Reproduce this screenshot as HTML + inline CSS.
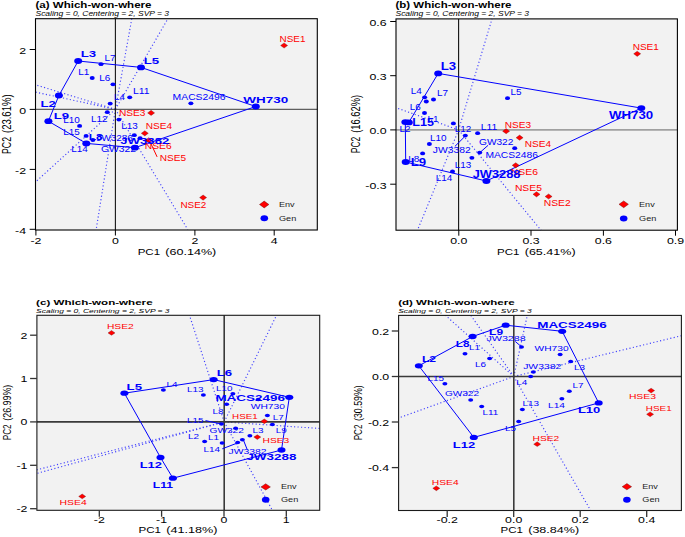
<!DOCTYPE html>
<html><head><meta charset="utf-8"><style>
html,body{margin:0;padding:0;background:#fff;}
svg{display:block;}
text{font-family:"Liberation Sans",sans-serif;}
</style></head><body>
<svg width="685" height="537" viewBox="0 0 685 537">
<rect width="685" height="537" fill="#fff"/>
<rect x="35.5" y="18.7" width="281.8" height="211.3" fill="#f2f2f2"/>
<line x1="115.40" y1="109.30" x2="131.80" y2="18.70" stroke="#4040ff" stroke-width="1.15" stroke-dasharray="1.15 2.35" stroke-linecap="butt"/>
<line x1="115.40" y1="109.30" x2="167.90" y2="18.70" stroke="#4040ff" stroke-width="1.15" stroke-dasharray="1.15 2.35" stroke-linecap="butt"/>
<line x1="115.40" y1="109.30" x2="35.50" y2="84.80" stroke="#4040ff" stroke-width="1.15" stroke-dasharray="1.15 2.35" stroke-linecap="butt"/>
<line x1="115.40" y1="109.30" x2="35.50" y2="92.10" stroke="#4040ff" stroke-width="1.15" stroke-dasharray="1.15 2.35" stroke-linecap="butt"/>
<line x1="115.40" y1="109.30" x2="35.50" y2="182.00" stroke="#4040ff" stroke-width="1.15" stroke-dasharray="1.15 2.35" stroke-linecap="butt"/>
<line x1="115.40" y1="109.30" x2="96.20" y2="229.50" stroke="#4040ff" stroke-width="1.15" stroke-dasharray="1.15 2.35" stroke-linecap="butt"/>
<line x1="115.40" y1="109.30" x2="187.70" y2="229.50" stroke="#4040ff" stroke-width="1.15" stroke-dasharray="1.15 2.35" stroke-linecap="butt"/>
<line x1="35.50" y1="109.30" x2="317.30" y2="109.30" stroke="#3a3a3a" stroke-width="1.0" stroke-linecap="butt"/>
<line x1="115.40" y1="18.70" x2="115.40" y2="230.00" stroke="#161616" stroke-width="1.1" stroke-linecap="butt"/>
<polygon points="78.20,61.00 141.00,67.40 255.80,106.50 134.90,147.70 86.30,143.40 48.40,121.20 58.90,95.50" fill="none" stroke="#0000ff" stroke-width="1.0" stroke-linejoin="round"/>
<line x1="151.00" y1="143.80" x2="157.10" y2="156.90" stroke="#ff0000" stroke-width="1.0" stroke-linecap="butt"/>
<ellipse cx="101.00" cy="64.20" rx="2.5" ry="1.9" fill="#0000ff"/>
<ellipse cx="92.20" cy="78.00" rx="2.5" ry="1.9" fill="#0000ff"/>
<ellipse cx="113.00" cy="84.30" rx="2.5" ry="1.9" fill="#0000ff"/>
<ellipse cx="110.20" cy="103.60" rx="2.5" ry="1.9" fill="#0000ff"/>
<ellipse cx="129.70" cy="97.30" rx="2.5" ry="1.9" fill="#0000ff"/>
<ellipse cx="107.30" cy="112.20" rx="2.5" ry="1.9" fill="#0000ff"/>
<ellipse cx="118.90" cy="119.60" rx="2.5" ry="1.9" fill="#0000ff"/>
<ellipse cx="79.60" cy="125.90" rx="2.5" ry="1.9" fill="#0000ff"/>
<ellipse cx="86.10" cy="135.90" rx="2.5" ry="1.9" fill="#0000ff"/>
<ellipse cx="92.90" cy="140.00" rx="2.5" ry="1.9" fill="#0000ff"/>
<ellipse cx="190.90" cy="103.30" rx="2.5" ry="1.9" fill="#0000ff"/>
<ellipse cx="134.30" cy="135.20" rx="2.5" ry="1.9" fill="#0000ff"/>
<ellipse cx="140.10" cy="138.20" rx="2.5" ry="1.9" fill="#0000ff"/>
<ellipse cx="78.20" cy="61.00" rx="4.0" ry="2.9" fill="#0000ff"/>
<ellipse cx="141.00" cy="67.40" rx="4.0" ry="2.9" fill="#0000ff"/>
<ellipse cx="255.80" cy="106.50" rx="4.0" ry="2.9" fill="#0000ff"/>
<ellipse cx="134.90" cy="147.70" rx="4.0" ry="2.9" fill="#0000ff"/>
<ellipse cx="86.30" cy="143.40" rx="4.0" ry="2.9" fill="#0000ff"/>
<ellipse cx="48.40" cy="121.20" rx="4.0" ry="2.9" fill="#0000ff"/>
<ellipse cx="58.90" cy="95.50" rx="4.0" ry="2.9" fill="#0000ff"/>
<polygon points="280.60,45.50 284.10,42.90 287.60,45.50 284.10,48.10" fill="#ff0000" stroke="#5a0000" stroke-width="0.45" stroke-opacity="0.7" stroke-linejoin="miter"/>
<polygon points="147.60,112.90 151.10,110.30 154.60,112.90 151.10,115.50" fill="#ff0000" stroke="#5a0000" stroke-width="0.45" stroke-opacity="0.7" stroke-linejoin="miter"/>
<polygon points="141.30,133.30 144.80,130.70 148.30,133.30 144.80,135.90" fill="#ff0000" stroke="#5a0000" stroke-width="0.45" stroke-opacity="0.7" stroke-linejoin="miter"/>
<polygon points="145.20,140.30 148.70,137.70 152.20,140.30 148.70,142.90" fill="#ff0000" stroke="#5a0000" stroke-width="0.45" stroke-opacity="0.7" stroke-linejoin="miter"/>
<polygon points="199.60,197.60 203.10,195.00 206.60,197.60 203.10,200.20" fill="#ff0000" stroke="#5a0000" stroke-width="0.45" stroke-opacity="0.7" stroke-linejoin="miter"/>
<text x="104.50" y="60.82" font-size="8.2" font-weight="normal" font-style="normal" fill="#0000ff" textLength="11.03" lengthAdjust="spacingAndGlyphs">L7</text>
<text x="78.20" y="75.22" font-size="8.2" font-weight="normal" font-style="normal" fill="#0000ff" textLength="11.03" lengthAdjust="spacingAndGlyphs">L1</text>
<text x="99.20" y="80.82" font-size="8.2" font-weight="normal" font-style="normal" fill="#0000ff" textLength="11.03" lengthAdjust="spacingAndGlyphs">L6</text>
<text x="114.10" y="100.12" font-size="8.2" font-weight="normal" font-style="normal" fill="#0000ff" textLength="11.03" lengthAdjust="spacingAndGlyphs">L4</text>
<text x="133.00" y="93.62" font-size="8.2" font-weight="normal" font-style="normal" fill="#0000ff" textLength="16.55" lengthAdjust="spacingAndGlyphs">L11</text>
<text x="90.90" y="121.82" font-size="8.2" font-weight="normal" font-style="normal" fill="#0000ff" textLength="16.55" lengthAdjust="spacingAndGlyphs">L12</text>
<text x="121.20" y="129.12" font-size="8.2" font-weight="normal" font-style="normal" fill="#0000ff" textLength="16.55" lengthAdjust="spacingAndGlyphs">L13</text>
<text x="63.30" y="122.52" font-size="8.2" font-weight="normal" font-style="normal" fill="#0000ff" textLength="16.55" lengthAdjust="spacingAndGlyphs">L10</text>
<text x="63.30" y="135.12" font-size="8.2" font-weight="normal" font-style="normal" fill="#0000ff" textLength="16.55" lengthAdjust="spacingAndGlyphs">L15</text>
<text x="71.20" y="151.82" font-size="8.2" font-weight="normal" font-style="normal" fill="#0000ff" textLength="16.55" lengthAdjust="spacingAndGlyphs">L14</text>
<text x="172.60" y="99.72" font-size="8.2" font-weight="normal" font-style="normal" fill="#0000ff" textLength="53.00" lengthAdjust="spacingAndGlyphs">MACS2496</text>
<text x="96.50" y="140.52" font-size="8.2" font-weight="normal" font-style="normal" fill="#0000ff" textLength="36.39" lengthAdjust="spacingAndGlyphs">JW3286</text>
<text x="101.00" y="151.82" font-size="8.2" font-weight="normal" font-style="normal" fill="#0000ff" textLength="35.00" lengthAdjust="spacingAndGlyphs">GW322</text>
<text x="279.60" y="41.92" font-size="8.2" font-weight="normal" font-style="normal" fill="#ff0000" textLength="25.91" lengthAdjust="spacingAndGlyphs">NSE1</text>
<text x="118.90" y="115.92" font-size="8.2" font-weight="normal" font-style="normal" fill="#ff0000" textLength="26.60" lengthAdjust="spacingAndGlyphs">NSE3</text>
<text x="145.70" y="129.42" font-size="8.2" font-weight="normal" font-style="normal" fill="#ff0000" textLength="26.30" lengthAdjust="spacingAndGlyphs">NSE4</text>
<text x="144.80" y="149.22" font-size="8.2" font-weight="normal" font-style="normal" fill="#ff0000" textLength="26.80" lengthAdjust="spacingAndGlyphs">NSE6</text>
<text x="159.70" y="160.92" font-size="8.2" font-weight="normal" font-style="normal" fill="#ff0000" textLength="26.30" lengthAdjust="spacingAndGlyphs">NSE5</text>
<text x="180.40" y="207.72" font-size="8.2" font-weight="normal" font-style="normal" fill="#ff0000" textLength="25.91" lengthAdjust="spacingAndGlyphs">NSE2</text>
<text x="80.80" y="57.41" font-size="9.9" font-weight="bold" font-style="normal" fill="#0000ff" textLength="15.40" lengthAdjust="spacingAndGlyphs">L3</text>
<text x="143.70" y="64.01" font-size="9.9" font-weight="bold" font-style="normal" fill="#0000ff" textLength="15.40" lengthAdjust="spacingAndGlyphs">L5</text>
<text x="243.30" y="102.51" font-size="9.9" font-weight="bold" font-style="normal" fill="#0000ff" textLength="44.90" lengthAdjust="spacingAndGlyphs">WH730</text>
<text x="120.30" y="143.91" font-size="9.9" font-weight="bold" font-style="normal" fill="#0000ff" textLength="49.00" lengthAdjust="spacingAndGlyphs">JW3382</text>
<text x="88.80" y="140.41" font-size="9.9" font-weight="bold" font-style="normal" fill="#0000ff" textLength="14.00" lengthAdjust="spacingAndGlyphs">L8</text>
<text x="53.70" y="119.11" font-size="9.9" font-weight="bold" font-style="normal" fill="#0000ff" textLength="15.40" lengthAdjust="spacingAndGlyphs">L9</text>
<text x="40.50" y="106.51" font-size="9.9" font-weight="bold" font-style="normal" fill="#0000ff" textLength="15.40" lengthAdjust="spacingAndGlyphs">L2</text>
<rect x="35.5" y="18.7" width="281.8" height="211.3" fill="none" stroke="#000" stroke-width="1.1"/>
<line x1="29.70" y1="49.50" x2="35.50" y2="49.50" stroke="#000" stroke-width="1.0" stroke-linecap="butt"/>
<text x="19.23" y="53.81" font-size="9.9" font-weight="normal" font-style="normal" fill="#000" textLength="6.87" lengthAdjust="spacingAndGlyphs">2</text>
<line x1="29.70" y1="109.40" x2="35.50" y2="109.40" stroke="#000" stroke-width="1.0" stroke-linecap="butt"/>
<text x="19.23" y="113.71" font-size="9.9" font-weight="normal" font-style="normal" fill="#000" textLength="6.87" lengthAdjust="spacingAndGlyphs">0</text>
<line x1="29.70" y1="169.40" x2="35.50" y2="169.40" stroke="#000" stroke-width="1.0" stroke-linecap="butt"/>
<text x="15.11" y="173.71" font-size="9.9" font-weight="normal" font-style="normal" fill="#000" textLength="10.99" lengthAdjust="spacingAndGlyphs">-2</text>
<line x1="29.70" y1="229.30" x2="35.50" y2="229.30" stroke="#000" stroke-width="1.0" stroke-linecap="butt"/>
<text x="15.11" y="233.61" font-size="9.9" font-weight="normal" font-style="normal" fill="#000" textLength="10.99" lengthAdjust="spacingAndGlyphs">-4</text>
<line x1="35.90" y1="230.00" x2="35.90" y2="235.51" stroke="#000" stroke-width="1.0" stroke-linecap="butt"/>
<text x="30.40" y="244.21" font-size="9.9" font-weight="normal" font-style="normal" fill="#000" textLength="10.99" lengthAdjust="spacingAndGlyphs">-2</text>
<line x1="115.40" y1="230.00" x2="115.40" y2="235.51" stroke="#000" stroke-width="1.0" stroke-linecap="butt"/>
<text x="111.96" y="244.21" font-size="9.9" font-weight="normal" font-style="normal" fill="#000" textLength="6.87" lengthAdjust="spacingAndGlyphs">0</text>
<line x1="194.90" y1="230.00" x2="194.90" y2="235.51" stroke="#000" stroke-width="1.0" stroke-linecap="butt"/>
<text x="191.46" y="244.21" font-size="9.9" font-weight="normal" font-style="normal" fill="#000" textLength="6.87" lengthAdjust="spacingAndGlyphs">2</text>
<line x1="274.20" y1="230.00" x2="274.20" y2="235.51" stroke="#000" stroke-width="1.0" stroke-linecap="butt"/>
<text x="270.76" y="244.21" font-size="9.9" font-weight="normal" font-style="normal" fill="#000" textLength="6.87" lengthAdjust="spacingAndGlyphs">4</text>
<text x="35.50" y="7.66" font-size="8.3" font-weight="bold" font-style="normal" fill="#000" textLength="116.00" lengthAdjust="spacingAndGlyphs">(a) Which-won-where</text>
<text x="35.50" y="15.70" font-size="6.4" font-weight="normal" font-style="italic" fill="#000" textLength="133.50" lengthAdjust="spacingAndGlyphs">Scaling = 0, Centering = 2, SVP = 3</text>
<text x="137.70" y="254.66" font-size="9.2" font-weight="normal" font-style="normal" fill="#000" textLength="22.40" lengthAdjust="spacingAndGlyphs">PC1</text>
<text x="165.37" y="254.66" font-size="9.2" font-weight="normal" font-style="normal" fill="#000" textLength="50.93" lengthAdjust="spacingAndGlyphs">(60.14%)</text>
<g transform="translate(6.80,154.00) scale(1.35,1) rotate(-90)"><text x="0.00" y="3.16" font-size="9.2" fill="#000" textLength="16.99" lengthAdjust="spacingAndGlyphs">PC2</text></g>
<g transform="translate(6.80,154.00) scale(1.35,1) rotate(-90)"><text x="20.98" y="3.16" font-size="9.2" fill="#000" textLength="38.62" lengthAdjust="spacingAndGlyphs">(23.61%)</text></g>
<polygon points="259.50,204.50 264.20,201.10 268.90,204.50 264.20,207.90" fill="#ff0000" stroke="#5a0000" stroke-width="0.6" stroke-opacity="0.7" stroke-linejoin="miter"/>
<ellipse cx="264.30" cy="218.30" rx="3.8" ry="3.0" fill="#0000ff"/>
<text x="279.00" y="207.05" font-size="7.4" font-weight="normal" font-style="normal" fill="#1a1a1a" textLength="15.60" lengthAdjust="spacingAndGlyphs">Env</text>
<text x="279.00" y="220.85" font-size="7.4" font-weight="normal" font-style="normal" fill="#1a1a1a" textLength="17.30" lengthAdjust="spacingAndGlyphs">Gen</text>
<rect x="396" y="18.9" width="281.4" height="211.29999999999998" fill="#f2f2f2"/>
<line x1="458.60" y1="129.90" x2="492.00" y2="18.90" stroke="#4040ff" stroke-width="1.15" stroke-dasharray="1.15 2.35" stroke-linecap="butt"/>
<line x1="458.60" y1="129.90" x2="396.00" y2="107.70" stroke="#4040ff" stroke-width="1.15" stroke-dasharray="1.15 2.35" stroke-linecap="butt"/>
<line x1="458.60" y1="129.90" x2="417.50" y2="230.20" stroke="#4040ff" stroke-width="1.15" stroke-dasharray="1.15 2.35" stroke-linecap="butt"/>
<line x1="458.60" y1="129.90" x2="541.00" y2="230.20" stroke="#4040ff" stroke-width="1.15" stroke-dasharray="1.15 2.35" stroke-linecap="butt"/>
<line x1="396.00" y1="129.90" x2="677.40" y2="129.90" stroke="#a0a0a0" stroke-width="1.6" stroke-linecap="butt"/>
<line x1="458.60" y1="18.90" x2="458.60" y2="230.20" stroke="#111" stroke-width="1.1" stroke-linecap="butt"/>
<polygon points="438.20,73.40 641.30,108.10 486.40,181.00 405.70,162.00 405.30,122.10 408.80,122.40" fill="none" stroke="#0000ff" stroke-width="1.0" stroke-linejoin="round"/>
<line x1="480.20" y1="152.30" x2="488.10" y2="145.30" stroke="#0000ff" stroke-width="1.0" stroke-linecap="butt"/>
<line x1="454.90" y1="146.40" x2="464.80" y2="136.50" stroke="#0000ff" stroke-width="1.0" stroke-linecap="butt"/>
<ellipse cx="424.60" cy="97.30" rx="2.5" ry="1.9" fill="#0000ff"/>
<ellipse cx="426.30" cy="101.50" rx="2.5" ry="1.9" fill="#0000ff"/>
<ellipse cx="433.50" cy="99.50" rx="2.5" ry="1.9" fill="#0000ff"/>
<ellipse cx="424.50" cy="113.00" rx="2.5" ry="1.9" fill="#0000ff"/>
<ellipse cx="453.40" cy="123.40" rx="2.5" ry="1.9" fill="#0000ff"/>
<ellipse cx="465.30" cy="135.60" rx="2.5" ry="1.9" fill="#0000ff"/>
<ellipse cx="477.60" cy="133.20" rx="2.5" ry="1.9" fill="#0000ff"/>
<ellipse cx="429.40" cy="144.00" rx="2.5" ry="1.9" fill="#0000ff"/>
<ellipse cx="422.60" cy="153.40" rx="2.5" ry="1.9" fill="#0000ff"/>
<ellipse cx="471.90" cy="157.80" rx="2.5" ry="1.9" fill="#0000ff"/>
<ellipse cx="452.50" cy="171.40" rx="2.5" ry="1.9" fill="#0000ff"/>
<ellipse cx="479.70" cy="152.60" rx="2.5" ry="1.9" fill="#0000ff"/>
<ellipse cx="514.70" cy="148.20" rx="2.5" ry="1.9" fill="#0000ff"/>
<ellipse cx="507.50" cy="98.20" rx="2.5" ry="1.9" fill="#0000ff"/>
<ellipse cx="438.20" cy="73.40" rx="4.0" ry="2.9" fill="#0000ff"/>
<ellipse cx="641.30" cy="108.10" rx="4.0" ry="2.9" fill="#0000ff"/>
<ellipse cx="486.40" cy="181.00" rx="4.0" ry="2.9" fill="#0000ff"/>
<ellipse cx="405.70" cy="162.00" rx="4.0" ry="2.9" fill="#0000ff"/>
<ellipse cx="405.30" cy="122.10" rx="4.0" ry="2.9" fill="#0000ff"/>
<ellipse cx="408.80" cy="122.40" rx="4.0" ry="2.9" fill="#0000ff"/>
<polygon points="633.70,53.80 637.20,51.20 640.70,53.80 637.20,56.40" fill="#ff0000" stroke="#5a0000" stroke-width="0.45" stroke-opacity="0.7" stroke-linejoin="miter"/>
<polygon points="502.60,131.20 506.10,128.60 509.60,131.20 506.10,133.80" fill="#ff0000" stroke="#5a0000" stroke-width="0.45" stroke-opacity="0.7" stroke-linejoin="miter"/>
<polygon points="516.10,137.70 519.60,135.10 523.10,137.70 519.60,140.30" fill="#ff0000" stroke="#5a0000" stroke-width="0.45" stroke-opacity="0.7" stroke-linejoin="miter"/>
<polygon points="512.20,165.30 515.70,162.70 519.20,165.30 515.70,167.90" fill="#ff0000" stroke="#5a0000" stroke-width="0.45" stroke-opacity="0.7" stroke-linejoin="miter"/>
<polygon points="533.00,194.30 536.50,191.70 540.00,194.30 536.50,196.90" fill="#ff0000" stroke="#5a0000" stroke-width="0.45" stroke-opacity="0.7" stroke-linejoin="miter"/>
<polygon points="545.10,196.50 548.60,193.90 552.10,196.50 548.60,199.10" fill="#ff0000" stroke="#5a0000" stroke-width="0.45" stroke-opacity="0.7" stroke-linejoin="miter"/>
<text x="410.70" y="93.82" font-size="8.2" font-weight="normal" font-style="normal" fill="#0000ff" textLength="11.03" lengthAdjust="spacingAndGlyphs">L4</text>
<text x="437.00" y="95.92" font-size="8.2" font-weight="normal" font-style="normal" fill="#0000ff" textLength="11.03" lengthAdjust="spacingAndGlyphs">L7</text>
<text x="409.80" y="109.62" font-size="8.2" font-weight="normal" font-style="normal" fill="#0000ff" textLength="11.03" lengthAdjust="spacingAndGlyphs">L6</text>
<text x="427.50" y="122.32" font-size="8.2" font-weight="normal" font-style="normal" fill="#0000ff" textLength="11.03" lengthAdjust="spacingAndGlyphs">L1</text>
<text x="454.80" y="132.02" font-size="8.2" font-weight="normal" font-style="normal" fill="#0000ff" textLength="16.55" lengthAdjust="spacingAndGlyphs">L12</text>
<text x="480.70" y="129.92" font-size="8.2" font-weight="normal" font-style="normal" fill="#0000ff" textLength="16.55" lengthAdjust="spacingAndGlyphs">L11</text>
<text x="430.00" y="140.82" font-size="8.2" font-weight="normal" font-style="normal" fill="#0000ff" textLength="16.55" lengthAdjust="spacingAndGlyphs">L10</text>
<text x="408.20" y="162.12" font-size="8.2" font-weight="normal" font-style="normal" fill="#0000ff" textLength="11.03" lengthAdjust="spacingAndGlyphs">L8</text>
<text x="454.80" y="167.52" font-size="8.2" font-weight="normal" font-style="normal" fill="#0000ff" textLength="16.55" lengthAdjust="spacingAndGlyphs">L13</text>
<text x="435.70" y="180.92" font-size="8.2" font-weight="normal" font-style="normal" fill="#0000ff" textLength="16.55" lengthAdjust="spacingAndGlyphs">L14</text>
<text x="479.00" y="144.82" font-size="8.2" font-weight="normal" font-style="normal" fill="#0000ff" textLength="34.40" lengthAdjust="spacingAndGlyphs">GW322</text>
<text x="485.40" y="158.12" font-size="8.2" font-weight="normal" font-style="normal" fill="#0000ff" textLength="52.60" lengthAdjust="spacingAndGlyphs">MACS2486</text>
<text x="432.80" y="153.32" font-size="8.2" font-weight="normal" font-style="normal" fill="#0000ff" textLength="37.90" lengthAdjust="spacingAndGlyphs">JW3382</text>
<text x="510.40" y="94.92" font-size="8.2" font-weight="normal" font-style="normal" fill="#0000ff" textLength="11.03" lengthAdjust="spacingAndGlyphs">L5</text>
<text x="399.50" y="132.22" font-size="8.2" font-weight="normal" font-style="normal" fill="#0000ff" textLength="11.03" lengthAdjust="spacingAndGlyphs">L2</text>
<text x="632.70" y="49.82" font-size="8.2" font-weight="normal" font-style="normal" fill="#ff0000" textLength="26.20" lengthAdjust="spacingAndGlyphs">NSE1</text>
<text x="504.70" y="127.82" font-size="8.2" font-weight="normal" font-style="normal" fill="#ff0000" textLength="26.30" lengthAdjust="spacingAndGlyphs">NSE3</text>
<text x="524.80" y="146.62" font-size="8.2" font-weight="normal" font-style="normal" fill="#ff0000" textLength="26.30" lengthAdjust="spacingAndGlyphs">NSE4</text>
<text x="510.80" y="174.62" font-size="8.2" font-weight="normal" font-style="normal" fill="#ff0000" textLength="27.20" lengthAdjust="spacingAndGlyphs">NSE6</text>
<text x="514.90" y="190.92" font-size="8.2" font-weight="normal" font-style="normal" fill="#ff0000" textLength="27.00" lengthAdjust="spacingAndGlyphs">NSE5</text>
<text x="543.70" y="206.32" font-size="8.2" font-weight="normal" font-style="normal" fill="#ff0000" textLength="27.00" lengthAdjust="spacingAndGlyphs">NSE2</text>
<text x="440.70" y="69.87" font-size="10.1" font-weight="bold" font-style="normal" fill="#0000ff" textLength="15.40" lengthAdjust="spacingAndGlyphs">L3</text>
<text x="609.10" y="119.07" font-size="10.1" font-weight="bold" font-style="normal" fill="#0000ff" textLength="44.10" lengthAdjust="spacingAndGlyphs">WH730</text>
<text x="472.70" y="177.67" font-size="10.1" font-weight="bold" font-style="normal" fill="#0000ff" textLength="47.70" lengthAdjust="spacingAndGlyphs">JW3288</text>
<text x="410.70" y="166.07" font-size="10.1" font-weight="bold" font-style="normal" fill="#0000ff" textLength="15.40" lengthAdjust="spacingAndGlyphs">L9</text>
<text x="412.30" y="126.47" font-size="10.1" font-weight="bold" font-style="normal" fill="#0000ff" textLength="21.60" lengthAdjust="spacingAndGlyphs">L15</text>
<rect x="396" y="18.9" width="281.4" height="211.29999999999998" fill="none" stroke="#000" stroke-width="1.1"/>
<line x1="390.20" y1="21.50" x2="396.00" y2="21.50" stroke="#000" stroke-width="1.0" stroke-linecap="butt"/>
<text x="369.42" y="25.81" font-size="9.9" font-weight="normal" font-style="normal" fill="#000" textLength="17.18" lengthAdjust="spacingAndGlyphs">0.6</text>
<line x1="390.20" y1="75.70" x2="396.00" y2="75.70" stroke="#000" stroke-width="1.0" stroke-linecap="butt"/>
<text x="369.42" y="80.01" font-size="9.9" font-weight="normal" font-style="normal" fill="#000" textLength="17.18" lengthAdjust="spacingAndGlyphs">0.3</text>
<line x1="390.20" y1="129.90" x2="396.00" y2="129.90" stroke="#000" stroke-width="1.0" stroke-linecap="butt"/>
<text x="369.42" y="134.21" font-size="9.9" font-weight="normal" font-style="normal" fill="#000" textLength="17.18" lengthAdjust="spacingAndGlyphs">0.0</text>
<line x1="390.20" y1="184.20" x2="396.00" y2="184.20" stroke="#000" stroke-width="1.0" stroke-linecap="butt"/>
<text x="365.30" y="188.51" font-size="9.9" font-weight="normal" font-style="normal" fill="#000" textLength="21.30" lengthAdjust="spacingAndGlyphs">-0.3</text>
<line x1="458.80" y1="230.20" x2="458.80" y2="235.71" stroke="#000" stroke-width="1.0" stroke-linecap="butt"/>
<text x="450.21" y="244.41" font-size="9.9" font-weight="normal" font-style="normal" fill="#000" textLength="17.18" lengthAdjust="spacingAndGlyphs">0.0</text>
<line x1="531.00" y1="230.20" x2="531.00" y2="235.71" stroke="#000" stroke-width="1.0" stroke-linecap="butt"/>
<text x="522.41" y="244.41" font-size="9.9" font-weight="normal" font-style="normal" fill="#000" textLength="17.18" lengthAdjust="spacingAndGlyphs">0.3</text>
<line x1="603.40" y1="230.20" x2="603.40" y2="235.71" stroke="#000" stroke-width="1.0" stroke-linecap="butt"/>
<text x="594.81" y="244.41" font-size="9.9" font-weight="normal" font-style="normal" fill="#000" textLength="17.18" lengthAdjust="spacingAndGlyphs">0.6</text>
<line x1="675.50" y1="230.20" x2="675.50" y2="235.71" stroke="#000" stroke-width="1.0" stroke-linecap="butt"/>
<text x="666.91" y="244.41" font-size="9.9" font-weight="normal" font-style="normal" fill="#000" textLength="17.18" lengthAdjust="spacingAndGlyphs">0.9</text>
<text x="395.50" y="7.66" font-size="8.3" font-weight="bold" font-style="normal" fill="#000" textLength="116.00" lengthAdjust="spacingAndGlyphs">(b) Which-won-where</text>
<text x="395.50" y="15.70" font-size="6.4" font-weight="normal" font-style="italic" fill="#000" textLength="133.50" lengthAdjust="spacingAndGlyphs">Scaling = 0, Centering = 2, SVP = 3</text>
<text x="497.10" y="254.56" font-size="9.2" font-weight="normal" font-style="normal" fill="#000" textLength="22.37" lengthAdjust="spacingAndGlyphs">PC1</text>
<text x="524.73" y="254.56" font-size="9.2" font-weight="normal" font-style="normal" fill="#000" textLength="50.87" lengthAdjust="spacingAndGlyphs">(65.41%)</text>
<g transform="translate(355.90,153.30) scale(1.35,1) rotate(-90)"><text x="0.00" y="3.16" font-size="9.2" fill="#000" textLength="16.64" lengthAdjust="spacingAndGlyphs">PC2</text></g>
<g transform="translate(355.90,153.30) scale(1.35,1) rotate(-90)"><text x="20.56" y="3.16" font-size="9.2" fill="#000" textLength="37.84" lengthAdjust="spacingAndGlyphs">(16.62%)</text></g>
<polygon points="619.00,204.30 623.70,200.90 628.40,204.30 623.70,207.70" fill="#ff0000" stroke="#5a0000" stroke-width="0.6" stroke-opacity="0.7" stroke-linejoin="miter"/>
<ellipse cx="623.70" cy="218.60" rx="3.8" ry="3.0" fill="#0000ff"/>
<text x="639.10" y="206.85" font-size="7.4" font-weight="normal" font-style="normal" fill="#1a1a1a" textLength="15.60" lengthAdjust="spacingAndGlyphs">Env</text>
<text x="639.10" y="221.15" font-size="7.4" font-weight="normal" font-style="normal" fill="#1a1a1a" textLength="17.30" lengthAdjust="spacingAndGlyphs">Gen</text>
<rect x="36.9" y="315.3" width="282.8" height="195.0" fill="#f2f2f2"/>
<line x1="224.20" y1="421.90" x2="189.50" y2="315.30" stroke="#4040ff" stroke-width="1.15" stroke-dasharray="1.15 2.35" stroke-linecap="butt"/>
<line x1="224.20" y1="421.90" x2="276.50" y2="315.30" stroke="#4040ff" stroke-width="1.15" stroke-dasharray="1.15 2.35" stroke-linecap="butt"/>
<line x1="224.20" y1="421.90" x2="319.70" y2="428.50" stroke="#4040ff" stroke-width="1.15" stroke-dasharray="1.15 2.35" stroke-linecap="butt"/>
<line x1="224.20" y1="421.90" x2="272.40" y2="510.30" stroke="#4040ff" stroke-width="1.15" stroke-dasharray="1.15 2.35" stroke-linecap="butt"/>
<line x1="224.20" y1="421.90" x2="36.90" y2="469.80" stroke="#4040ff" stroke-width="1.15" stroke-dasharray="1.15 2.35" stroke-linecap="butt"/>
<line x1="224.20" y1="421.90" x2="36.90" y2="473.40" stroke="#4040ff" stroke-width="1.15" stroke-dasharray="1.15 2.35" stroke-linecap="butt"/>
<line x1="36.90" y1="421.90" x2="319.70" y2="421.90" stroke="#3a3a3a" stroke-width="1.6" stroke-linecap="butt"/>
<line x1="224.20" y1="315.30" x2="224.20" y2="510.30" stroke="#3a3a3a" stroke-width="1.6" stroke-linecap="butt"/>
<polygon points="124.40,393.20 213.70,379.60 289.30,397.30 281.50,450.00 172.90,478.20 160.50,457.50" fill="none" stroke="#0000ff" stroke-width="1.0" stroke-linejoin="round"/>
<line x1="243.80" y1="441.00" x2="247.30" y2="449.80" stroke="#0000ff" stroke-width="1.0" stroke-linecap="butt"/>
<line x1="205.50" y1="420.60" x2="220.40" y2="423.80" stroke="#0000ff" stroke-width="1.0" stroke-linecap="butt"/>
<line x1="222.30" y1="448.80" x2="236.90" y2="443.20" stroke="#0000ff" stroke-width="1.0" stroke-linecap="butt"/>
<ellipse cx="163.40" cy="390.10" rx="2.5" ry="1.748" fill="#0000ff"/>
<ellipse cx="203.40" cy="395.00" rx="2.5" ry="1.748" fill="#0000ff"/>
<ellipse cx="232.90" cy="393.80" rx="2.5" ry="1.748" fill="#0000ff"/>
<ellipse cx="226.60" cy="404.30" rx="2.5" ry="1.748" fill="#0000ff"/>
<ellipse cx="267.40" cy="415.40" rx="2.5" ry="1.748" fill="#0000ff"/>
<ellipse cx="272.40" cy="424.50" rx="2.5" ry="1.748" fill="#0000ff"/>
<ellipse cx="249.90" cy="435.70" rx="2.5" ry="1.748" fill="#0000ff"/>
<ellipse cx="235.60" cy="428.30" rx="2.5" ry="1.748" fill="#0000ff"/>
<ellipse cx="204.60" cy="441.60" rx="2.5" ry="1.748" fill="#0000ff"/>
<ellipse cx="222.10" cy="443.10" rx="2.5" ry="1.748" fill="#0000ff"/>
<ellipse cx="237.70" cy="442.50" rx="2.5" ry="1.748" fill="#0000ff"/>
<ellipse cx="242.40" cy="439.80" rx="2.5" ry="1.748" fill="#0000ff"/>
<ellipse cx="221.50" cy="423.90" rx="2.5" ry="1.748" fill="#0000ff"/>
<ellipse cx="258.20" cy="399.60" rx="2.5" ry="1.748" fill="#0000ff"/>
<ellipse cx="124.40" cy="393.20" rx="4.0" ry="2.668" fill="#0000ff"/>
<ellipse cx="213.70" cy="379.60" rx="4.0" ry="2.668" fill="#0000ff"/>
<ellipse cx="289.30" cy="397.30" rx="4.0" ry="2.668" fill="#0000ff"/>
<ellipse cx="281.50" cy="450.00" rx="4.0" ry="2.668" fill="#0000ff"/>
<ellipse cx="172.90" cy="478.20" rx="4.0" ry="2.668" fill="#0000ff"/>
<ellipse cx="160.50" cy="457.50" rx="4.0" ry="2.668" fill="#0000ff"/>
<polygon points="108.00,332.90 111.50,330.51 115.00,332.90 111.50,335.29" fill="#ff0000" stroke="#5a0000" stroke-width="0.45" stroke-opacity="0.7" stroke-linejoin="miter"/>
<polygon points="78.70,496.40 82.20,494.01 85.70,496.40 82.20,498.79" fill="#ff0000" stroke="#5a0000" stroke-width="0.45" stroke-opacity="0.7" stroke-linejoin="miter"/>
<polygon points="260.80,421.30 264.30,418.91 267.80,421.30 264.30,423.69" fill="#ff0000" stroke="#5a0000" stroke-width="0.45" stroke-opacity="0.7" stroke-linejoin="miter"/>
<polygon points="253.80,437.10 257.30,434.71 260.80,437.10 257.30,439.49" fill="#ff0000" stroke="#5a0000" stroke-width="0.45" stroke-opacity="0.7" stroke-linejoin="miter"/>
<text x="166.40" y="387.10" font-size="7.544" font-weight="normal" font-style="normal" fill="#0000ff" textLength="11.03" lengthAdjust="spacingAndGlyphs">L4</text>
<text x="187.10" y="391.80" font-size="7.544" font-weight="normal" font-style="normal" fill="#0000ff" textLength="16.55" lengthAdjust="spacingAndGlyphs">L13</text>
<text x="216.00" y="390.60" font-size="7.544" font-weight="normal" font-style="normal" fill="#0000ff" textLength="16.55" lengthAdjust="spacingAndGlyphs">L10</text>
<text x="212.60" y="413.60" font-size="7.544" font-weight="normal" font-style="normal" fill="#0000ff" textLength="11.03" lengthAdjust="spacingAndGlyphs">L8</text>
<text x="250.80" y="408.70" font-size="7.544" font-weight="normal" font-style="normal" fill="#0000ff" textLength="34.20" lengthAdjust="spacingAndGlyphs">WH730</text>
<text x="272.70" y="420.40" font-size="7.544" font-weight="normal" font-style="normal" fill="#0000ff" textLength="11.03" lengthAdjust="spacingAndGlyphs">L7</text>
<text x="275.70" y="432.70" font-size="7.544" font-weight="normal" font-style="normal" fill="#0000ff" textLength="11.03" lengthAdjust="spacingAndGlyphs">L9</text>
<text x="252.60" y="432.70" font-size="7.544" font-weight="normal" font-style="normal" fill="#0000ff" textLength="11.03" lengthAdjust="spacingAndGlyphs">L3</text>
<text x="209.60" y="432.70" font-size="7.544" font-weight="normal" font-style="normal" fill="#0000ff" textLength="34.20" lengthAdjust="spacingAndGlyphs">GW322</text>
<text x="207.90" y="439.70" font-size="7.544" font-weight="normal" font-style="normal" fill="#0000ff" textLength="11.03" lengthAdjust="spacingAndGlyphs">L1</text>
<text x="188.00" y="438.70" font-size="7.544" font-weight="normal" font-style="normal" fill="#0000ff" textLength="11.03" lengthAdjust="spacingAndGlyphs">L2</text>
<text x="203.60" y="452.10" font-size="7.544" font-weight="normal" font-style="normal" fill="#0000ff" textLength="16.55" lengthAdjust="spacingAndGlyphs">L14</text>
<text x="228.60" y="453.80" font-size="7.544" font-weight="normal" font-style="normal" fill="#0000ff" textLength="38.00" lengthAdjust="spacingAndGlyphs">JW3382</text>
<text x="187.10" y="422.60" font-size="7.544" font-weight="normal" font-style="normal" fill="#0000ff" textLength="16.55" lengthAdjust="spacingAndGlyphs">L15</text>
<text x="106.90" y="329.30" font-size="7.544" font-weight="normal" font-style="normal" fill="#ff0000" textLength="26.80" lengthAdjust="spacingAndGlyphs">HSE2</text>
<text x="59.60" y="505.00" font-size="7.544" font-weight="normal" font-style="normal" fill="#ff0000" textLength="27.20" lengthAdjust="spacingAndGlyphs">HSE4</text>
<text x="232.10" y="419.00" font-size="7.544" font-weight="normal" font-style="normal" fill="#ff0000" textLength="25.70" lengthAdjust="spacingAndGlyphs">HSE1</text>
<text x="262.50" y="443.20" font-size="7.544" font-weight="normal" font-style="normal" fill="#ff0000" textLength="26.80" lengthAdjust="spacingAndGlyphs">HSE3</text>
<text x="126.60" y="389.93" font-size="9.4" font-weight="bold" font-style="normal" fill="#0000ff" textLength="15.40" lengthAdjust="spacingAndGlyphs">L5</text>
<text x="216.70" y="376.33" font-size="9.4" font-weight="bold" font-style="normal" fill="#0000ff" textLength="15.40" lengthAdjust="spacingAndGlyphs">L6</text>
<text x="215.40" y="400.53" font-size="9.4" font-weight="bold" font-style="normal" fill="#0000ff" textLength="69.60" lengthAdjust="spacingAndGlyphs">MACS2496</text>
<text x="246.40" y="460.33" font-size="9.4" font-weight="bold" font-style="normal" fill="#0000ff" textLength="50.00" lengthAdjust="spacingAndGlyphs">JW3288</text>
<text x="139.70" y="468.23" font-size="9.4" font-weight="bold" font-style="normal" fill="#0000ff" textLength="22.30" lengthAdjust="spacingAndGlyphs">L12</text>
<text x="152.80" y="488.43" font-size="9.4" font-weight="bold" font-style="normal" fill="#0000ff" textLength="20.10" lengthAdjust="spacingAndGlyphs">L11</text>
<rect x="36.9" y="315.3" width="282.8" height="195.0" fill="none" stroke="#1a1a1a" stroke-width="1.1"/>
<line x1="30.10" y1="335.20" x2="36.90" y2="335.20" stroke="#333" stroke-width="1.3" stroke-linecap="butt"/>
<text x="20.63" y="338.70" font-size="9.3" font-weight="normal" font-style="normal" fill="#000" textLength="6.87" lengthAdjust="spacingAndGlyphs">2</text>
<line x1="30.10" y1="378.50" x2="36.90" y2="378.50" stroke="#333" stroke-width="1.3" stroke-linecap="butt"/>
<text x="20.63" y="382.00" font-size="9.3" font-weight="normal" font-style="normal" fill="#000" textLength="6.87" lengthAdjust="spacingAndGlyphs">1</text>
<line x1="30.10" y1="421.90" x2="36.90" y2="421.90" stroke="#333" stroke-width="1.3" stroke-linecap="butt"/>
<text x="20.63" y="425.40" font-size="9.3" font-weight="normal" font-style="normal" fill="#000" textLength="6.87" lengthAdjust="spacingAndGlyphs">0</text>
<line x1="30.10" y1="465.30" x2="36.90" y2="465.30" stroke="#333" stroke-width="1.3" stroke-linecap="butt"/>
<text x="16.51" y="468.80" font-size="9.3" font-weight="normal" font-style="normal" fill="#000" textLength="10.99" lengthAdjust="spacingAndGlyphs">-1</text>
<line x1="30.10" y1="508.70" x2="36.90" y2="508.70" stroke="#333" stroke-width="1.3" stroke-linecap="butt"/>
<text x="16.51" y="512.20" font-size="9.3" font-weight="normal" font-style="normal" fill="#000" textLength="10.99" lengthAdjust="spacingAndGlyphs">-2</text>
<line x1="99.30" y1="510.30" x2="99.30" y2="516.76" stroke="#333" stroke-width="1.3" stroke-linecap="butt"/>
<text x="93.80" y="523.00" font-size="9.3" font-weight="normal" font-style="normal" fill="#000" textLength="10.99" lengthAdjust="spacingAndGlyphs">-2</text>
<line x1="161.60" y1="510.30" x2="161.60" y2="516.76" stroke="#333" stroke-width="1.3" stroke-linecap="butt"/>
<text x="156.10" y="523.00" font-size="9.3" font-weight="normal" font-style="normal" fill="#000" textLength="10.99" lengthAdjust="spacingAndGlyphs">-1</text>
<line x1="224.00" y1="510.30" x2="224.00" y2="516.76" stroke="#333" stroke-width="1.3" stroke-linecap="butt"/>
<text x="220.56" y="523.00" font-size="9.3" font-weight="normal" font-style="normal" fill="#000" textLength="6.87" lengthAdjust="spacingAndGlyphs">0</text>
<line x1="286.30" y1="510.30" x2="286.30" y2="516.76" stroke="#333" stroke-width="1.3" stroke-linecap="butt"/>
<text x="282.86" y="523.00" font-size="9.3" font-weight="normal" font-style="normal" fill="#000" textLength="6.87" lengthAdjust="spacingAndGlyphs">1</text>
<text x="36.10" y="304.55" font-size="8.0" font-weight="bold" font-style="normal" fill="#000" textLength="116.50" lengthAdjust="spacingAndGlyphs">(c) Which-won-where</text>
<text x="36.10" y="312.73" font-size="6.2" font-weight="normal" font-style="italic" fill="#000" textLength="133.50" lengthAdjust="spacingAndGlyphs">Scaling = 0, Centering = 2, SVP = 3</text>
<text x="138.50" y="532.96" font-size="8.3" font-weight="normal" font-style="normal" fill="#000" textLength="22.51" lengthAdjust="spacingAndGlyphs">PC1</text>
<text x="166.31" y="532.96" font-size="8.3" font-weight="normal" font-style="normal" fill="#000" textLength="51.19" lengthAdjust="spacingAndGlyphs">(41.18%)</text>
<g transform="translate(6.90,440.30) scale(1.35,1) rotate(-90)"><text x="0.00" y="2.86" font-size="8.3" fill="#000" textLength="15.85" lengthAdjust="spacingAndGlyphs">PC2</text></g>
<g transform="translate(6.90,440.30) scale(1.35,1) rotate(-90)"><text x="19.57" y="2.86" font-size="8.3" fill="#000" textLength="36.03" lengthAdjust="spacingAndGlyphs">(26.99%)</text></g>
<polygon points="261.00,486.90 265.70,483.77 270.40,486.90 265.70,490.03" fill="#ff0000" stroke="#5a0000" stroke-width="0.6" stroke-opacity="0.7" stroke-linejoin="miter"/>
<ellipse cx="265.70" cy="499.70" rx="3.8" ry="3.0" fill="#0000ff"/>
<text x="281.00" y="489.45" font-size="7.4" font-weight="normal" font-style="normal" fill="#1a1a1a" textLength="15.60" lengthAdjust="spacingAndGlyphs">Env</text>
<text x="281.00" y="502.25" font-size="7.4" font-weight="normal" font-style="normal" fill="#1a1a1a" textLength="17.30" lengthAdjust="spacingAndGlyphs">Gen</text>
<rect x="398.6" y="315.4" width="282.79999999999995" height="195.10000000000002" fill="#f2f2f2"/>
<line x1="513.80" y1="376.50" x2="445.50" y2="315.40" stroke="#4040ff" stroke-width="1.15" stroke-dasharray="1.15 2.35" stroke-linecap="butt"/>
<line x1="513.80" y1="376.50" x2="470.80" y2="315.40" stroke="#4040ff" stroke-width="1.15" stroke-dasharray="1.15 2.35" stroke-linecap="butt"/>
<line x1="513.80" y1="376.50" x2="527.30" y2="315.40" stroke="#4040ff" stroke-width="1.15" stroke-dasharray="1.15 2.35" stroke-linecap="butt"/>
<line x1="513.80" y1="376.50" x2="681.00" y2="335.80" stroke="#4040ff" stroke-width="1.15" stroke-dasharray="1.15 2.35" stroke-linecap="butt"/>
<line x1="513.80" y1="376.50" x2="590.50" y2="510.30" stroke="#4040ff" stroke-width="1.15" stroke-dasharray="1.15 2.35" stroke-linecap="butt"/>
<line x1="513.80" y1="376.50" x2="398.60" y2="418.00" stroke="#4040ff" stroke-width="1.15" stroke-dasharray="1.15 2.35" stroke-linecap="butt"/>
<line x1="398.60" y1="376.50" x2="681.40" y2="376.50" stroke="#3a3a3a" stroke-width="1.6" stroke-linecap="butt"/>
<line x1="513.80" y1="315.40" x2="513.80" y2="510.50" stroke="#3a3a3a" stroke-width="1.6" stroke-linecap="butt"/>
<polygon points="418.80,365.80 472.60,336.50 505.70,325.20 562.20,331.30 598.70,402.90 473.80,437.40" fill="none" stroke="#0000ff" stroke-width="1.0" stroke-linejoin="round"/>
<line x1="515.30" y1="341.50" x2="521.50" y2="346.80" stroke="#0000ff" stroke-width="1.0" stroke-linecap="butt"/>
<ellipse cx="465.00" cy="353.80" rx="2.5" ry="1.748" fill="#0000ff"/>
<ellipse cx="489.60" cy="358.50" rx="2.5" ry="1.748" fill="#0000ff"/>
<ellipse cx="521.50" cy="347.00" rx="2.5" ry="1.748" fill="#0000ff"/>
<ellipse cx="560.10" cy="354.60" rx="2.5" ry="1.748" fill="#0000ff"/>
<ellipse cx="533.40" cy="371.90" rx="2.5" ry="1.748" fill="#0000ff"/>
<ellipse cx="530.70" cy="376.40" rx="2.5" ry="1.748" fill="#0000ff"/>
<ellipse cx="570.70" cy="361.40" rx="2.5" ry="1.748" fill="#0000ff"/>
<ellipse cx="569.30" cy="391.30" rx="2.5" ry="1.748" fill="#0000ff"/>
<ellipse cx="561.90" cy="398.80" rx="2.5" ry="1.748" fill="#0000ff"/>
<ellipse cx="522.40" cy="409.40" rx="2.5" ry="1.748" fill="#0000ff"/>
<ellipse cx="518.70" cy="421.60" rx="2.5" ry="1.748" fill="#0000ff"/>
<ellipse cx="444.90" cy="383.70" rx="2.5" ry="1.748" fill="#0000ff"/>
<ellipse cx="470.70" cy="400.00" rx="2.5" ry="1.748" fill="#0000ff"/>
<ellipse cx="481.70" cy="406.40" rx="2.5" ry="1.748" fill="#0000ff"/>
<ellipse cx="418.80" cy="365.80" rx="4.0" ry="2.668" fill="#0000ff"/>
<ellipse cx="472.60" cy="336.50" rx="4.0" ry="2.668" fill="#0000ff"/>
<ellipse cx="505.70" cy="325.20" rx="4.0" ry="2.668" fill="#0000ff"/>
<ellipse cx="562.20" cy="331.30" rx="4.0" ry="2.668" fill="#0000ff"/>
<ellipse cx="598.70" cy="402.90" rx="4.0" ry="2.668" fill="#0000ff"/>
<ellipse cx="473.80" cy="437.40" rx="4.0" ry="2.668" fill="#0000ff"/>
<polygon points="647.60,390.60 651.10,388.21 654.60,390.60 651.10,392.99" fill="#ff0000" stroke="#5a0000" stroke-width="0.45" stroke-opacity="0.7" stroke-linejoin="miter"/>
<polygon points="646.60,414.30 650.10,411.91 653.60,414.30 650.10,416.69" fill="#ff0000" stroke="#5a0000" stroke-width="0.45" stroke-opacity="0.7" stroke-linejoin="miter"/>
<polygon points="533.70,444.20 537.20,441.81 540.70,444.20 537.20,446.59" fill="#ff0000" stroke="#5a0000" stroke-width="0.45" stroke-opacity="0.7" stroke-linejoin="miter"/>
<polygon points="432.80,488.30 436.30,485.91 439.80,488.30 436.30,490.69" fill="#ff0000" stroke="#5a0000" stroke-width="0.45" stroke-opacity="0.7" stroke-linejoin="miter"/>
<text x="468.90" y="350.30" font-size="7.544" font-weight="normal" font-style="normal" fill="#0000ff" textLength="11.03" lengthAdjust="spacingAndGlyphs">L1</text>
<text x="475.00" y="367.30" font-size="7.544" font-weight="normal" font-style="normal" fill="#0000ff" textLength="11.03" lengthAdjust="spacingAndGlyphs">L6</text>
<text x="486.40" y="340.60" font-size="7.544" font-weight="normal" font-style="normal" fill="#0000ff" textLength="39.40" lengthAdjust="spacingAndGlyphs">JW3288</text>
<text x="534.60" y="351.20" font-size="7.544" font-weight="normal" font-style="normal" fill="#0000ff" textLength="34.00" lengthAdjust="spacingAndGlyphs">WH730</text>
<text x="523.20" y="368.70" font-size="7.544" font-weight="normal" font-style="normal" fill="#0000ff" textLength="38.00" lengthAdjust="spacingAndGlyphs">JW3382</text>
<text x="573.90" y="369.90" font-size="7.544" font-weight="normal" font-style="normal" fill="#0000ff" textLength="11.03" lengthAdjust="spacingAndGlyphs">L3</text>
<text x="516.30" y="385.10" font-size="7.544" font-weight="normal" font-style="normal" fill="#0000ff" textLength="11.03" lengthAdjust="spacingAndGlyphs">L4</text>
<text x="572.50" y="388.10" font-size="7.544" font-weight="normal" font-style="normal" fill="#0000ff" textLength="11.03" lengthAdjust="spacingAndGlyphs">L7</text>
<text x="548.10" y="408.10" font-size="7.544" font-weight="normal" font-style="normal" fill="#0000ff" textLength="16.90" lengthAdjust="spacingAndGlyphs">L14</text>
<text x="522.40" y="405.90" font-size="7.544" font-weight="normal" font-style="normal" fill="#0000ff" textLength="16.55" lengthAdjust="spacingAndGlyphs">L13</text>
<text x="504.90" y="430.50" font-size="7.544" font-weight="normal" font-style="normal" fill="#0000ff" textLength="11.03" lengthAdjust="spacingAndGlyphs">L5</text>
<text x="427.40" y="380.50" font-size="7.544" font-weight="normal" font-style="normal" fill="#0000ff" textLength="16.55" lengthAdjust="spacingAndGlyphs">L15</text>
<text x="444.90" y="396.30" font-size="7.544" font-weight="normal" font-style="normal" fill="#0000ff" textLength="34.20" lengthAdjust="spacingAndGlyphs">GW322</text>
<text x="482.60" y="415.20" font-size="7.544" font-weight="normal" font-style="normal" fill="#0000ff" textLength="15.80" lengthAdjust="spacingAndGlyphs">L11</text>
<text x="628.90" y="399.00" font-size="7.544" font-weight="normal" font-style="normal" fill="#ff0000" textLength="27.10" lengthAdjust="spacingAndGlyphs">HSE3</text>
<text x="645.80" y="410.60" font-size="7.544" font-weight="normal" font-style="normal" fill="#ff0000" textLength="25.90" lengthAdjust="spacingAndGlyphs">HSE1</text>
<text x="532.60" y="440.60" font-size="7.544" font-weight="normal" font-style="normal" fill="#ff0000" textLength="26.70" lengthAdjust="spacingAndGlyphs">HSE2</text>
<text x="431.80" y="484.90" font-size="7.544" font-weight="normal" font-style="normal" fill="#ff0000" textLength="26.80" lengthAdjust="spacingAndGlyphs">HSE4</text>
<text x="421.90" y="362.20" font-size="9.6" font-weight="bold" font-style="normal" fill="#0000ff" textLength="14.10" lengthAdjust="spacingAndGlyphs">L2</text>
<text x="455.80" y="346.70" font-size="9.6" font-weight="bold" font-style="normal" fill="#0000ff" textLength="13.70" lengthAdjust="spacingAndGlyphs">L8</text>
<text x="489.10" y="335.20" font-size="9.6" font-weight="bold" font-style="normal" fill="#0000ff" textLength="14.00" lengthAdjust="spacingAndGlyphs">L9</text>
<text x="537.20" y="327.90" font-size="9.6" font-weight="bold" font-style="normal" fill="#0000ff" textLength="69.50" lengthAdjust="spacingAndGlyphs">MACS2496</text>
<text x="577.90" y="413.30" font-size="9.6" font-weight="bold" font-style="normal" fill="#0000ff" textLength="22.40" lengthAdjust="spacingAndGlyphs">L10</text>
<text x="452.80" y="447.80" font-size="9.6" font-weight="bold" font-style="normal" fill="#0000ff" textLength="22.40" lengthAdjust="spacingAndGlyphs">L12</text>
<rect x="398.6" y="315.4" width="282.79999999999995" height="195.10000000000002" fill="none" stroke="#1a1a1a" stroke-width="1.1"/>
<line x1="391.80" y1="331.00" x2="398.60" y2="331.00" stroke="#333" stroke-width="1.3" stroke-linecap="butt"/>
<text x="372.02" y="334.50" font-size="9.3" font-weight="normal" font-style="normal" fill="#000" textLength="17.18" lengthAdjust="spacingAndGlyphs">0.2</text>
<line x1="391.80" y1="376.50" x2="398.60" y2="376.50" stroke="#333" stroke-width="1.3" stroke-linecap="butt"/>
<text x="372.02" y="380.00" font-size="9.3" font-weight="normal" font-style="normal" fill="#000" textLength="17.18" lengthAdjust="spacingAndGlyphs">0.0</text>
<line x1="391.80" y1="422.00" x2="398.60" y2="422.00" stroke="#333" stroke-width="1.3" stroke-linecap="butt"/>
<text x="367.90" y="425.50" font-size="9.3" font-weight="normal" font-style="normal" fill="#000" textLength="21.30" lengthAdjust="spacingAndGlyphs">-0.2</text>
<line x1="391.80" y1="467.60" x2="398.60" y2="467.60" stroke="#333" stroke-width="1.3" stroke-linecap="butt"/>
<text x="367.90" y="471.10" font-size="9.3" font-weight="normal" font-style="normal" fill="#000" textLength="21.30" lengthAdjust="spacingAndGlyphs">-0.4</text>
<line x1="447.20" y1="510.50" x2="447.20" y2="516.96" stroke="#333" stroke-width="1.3" stroke-linecap="butt"/>
<text x="436.55" y="523.20" font-size="9.3" font-weight="normal" font-style="normal" fill="#000" textLength="21.30" lengthAdjust="spacingAndGlyphs">-0.2</text>
<line x1="513.70" y1="510.50" x2="513.70" y2="516.96" stroke="#333" stroke-width="1.3" stroke-linecap="butt"/>
<text x="505.11" y="523.20" font-size="9.3" font-weight="normal" font-style="normal" fill="#000" textLength="17.18" lengthAdjust="spacingAndGlyphs">0.0</text>
<line x1="580.20" y1="510.50" x2="580.20" y2="516.96" stroke="#333" stroke-width="1.3" stroke-linecap="butt"/>
<text x="571.61" y="523.20" font-size="9.3" font-weight="normal" font-style="normal" fill="#000" textLength="17.18" lengthAdjust="spacingAndGlyphs">0.2</text>
<line x1="646.70" y1="510.50" x2="646.70" y2="516.96" stroke="#333" stroke-width="1.3" stroke-linecap="butt"/>
<text x="638.11" y="523.20" font-size="9.3" font-weight="normal" font-style="normal" fill="#000" textLength="17.18" lengthAdjust="spacingAndGlyphs">0.4</text>
<text x="398.20" y="304.55" font-size="8.0" font-weight="bold" font-style="normal" fill="#000" textLength="116.50" lengthAdjust="spacingAndGlyphs">(d) Which-won-where</text>
<text x="398.20" y="312.73" font-size="6.2" font-weight="normal" font-style="italic" fill="#000" textLength="133.50" lengthAdjust="spacingAndGlyphs">Scaling = 0, Centering = 2, SVP = 3</text>
<text x="500.60" y="532.66" font-size="8.3" font-weight="normal" font-style="normal" fill="#000" textLength="22.37" lengthAdjust="spacingAndGlyphs">PC1</text>
<text x="528.23" y="532.66" font-size="8.3" font-weight="normal" font-style="normal" fill="#000" textLength="50.87" lengthAdjust="spacingAndGlyphs">(38.84%)</text>
<g transform="translate(358.00,440.30) scale(1.35,1) rotate(-90)"><text x="0.00" y="2.86" font-size="8.3" fill="#000" textLength="15.67" lengthAdjust="spacingAndGlyphs">PC2</text></g>
<g transform="translate(358.00,440.30) scale(1.35,1) rotate(-90)"><text x="19.36" y="2.86" font-size="8.3" fill="#000" textLength="35.64" lengthAdjust="spacingAndGlyphs">(30.59%)</text></g>
<polygon points="622.20,486.70 626.90,483.57 631.60,486.70 626.90,489.83" fill="#ff0000" stroke="#5a0000" stroke-width="0.6" stroke-opacity="0.7" stroke-linejoin="miter"/>
<ellipse cx="626.90" cy="499.70" rx="3.8" ry="3.0" fill="#0000ff"/>
<text x="642.30" y="489.25" font-size="7.4" font-weight="normal" font-style="normal" fill="#1a1a1a" textLength="15.60" lengthAdjust="spacingAndGlyphs">Env</text>
<text x="642.30" y="502.25" font-size="7.4" font-weight="normal" font-style="normal" fill="#1a1a1a" textLength="17.30" lengthAdjust="spacingAndGlyphs">Gen</text>
</svg>
</body></html>
